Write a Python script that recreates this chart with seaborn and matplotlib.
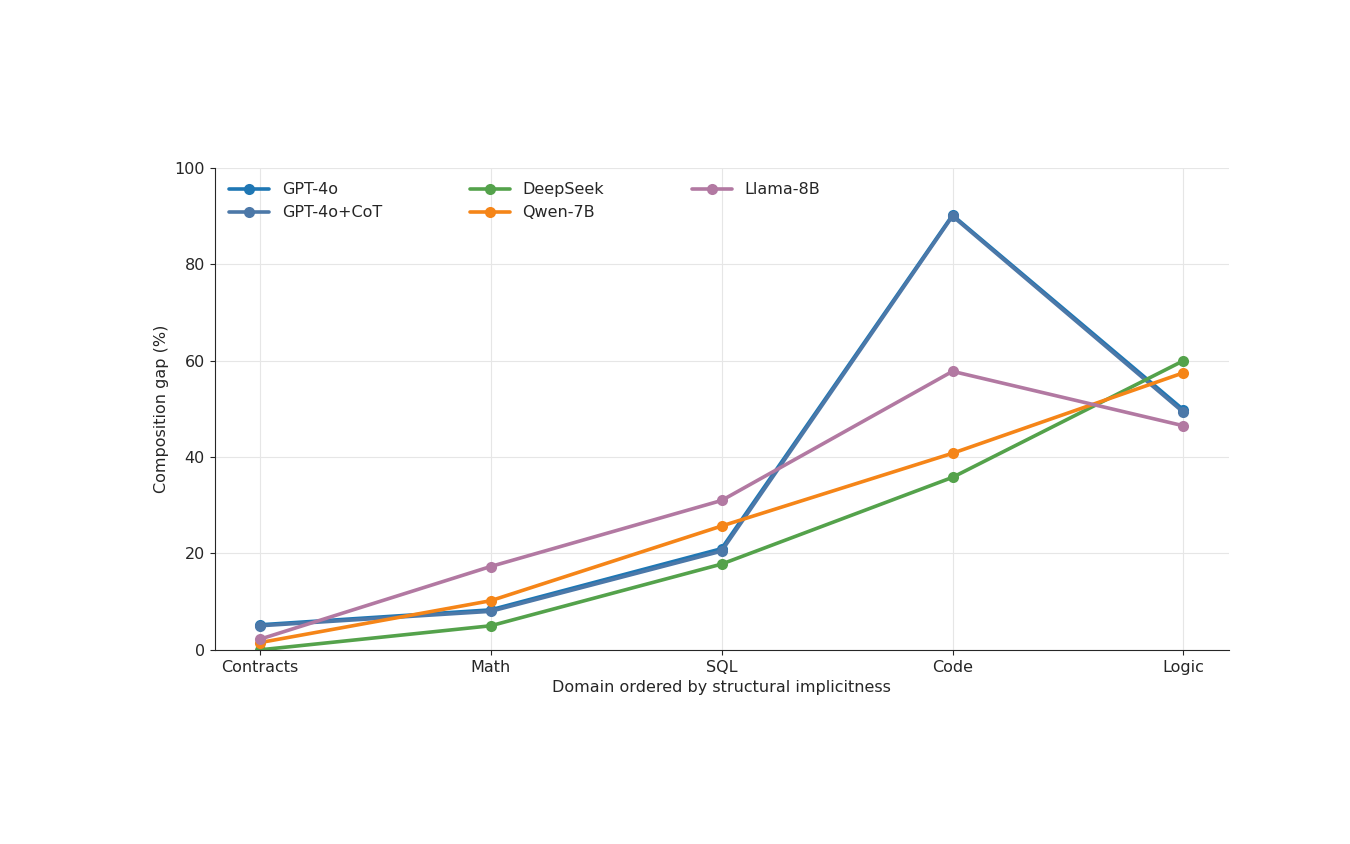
import matplotlib
matplotlib.use("Agg")
import matplotlib.pyplot as plt
import seaborn as sns
import pandas as pd
from matplotlib.transforms import Bbox, TransformedBbox

domains = ["Contracts", "Math", "SQL", "Code", "Logic"]
gpt4o = [5.2, 8.3, 21.0, 90.2, 49.8]
gpt4o_cot = [5.0, 8.0, 20.5, 90.0, 49.3]
deepseek = [0.0, 5.0, 17.8, 35.8, 60.0]
qwen = [1.5, 10.2, 25.7, 40.8, 57.5]
llama = [2.2, 17.3, 31.0, 57.8, 46.5]

series = {"GPT-4o": gpt4o, "GPT-4o+CoT": gpt4o_cot, "DeepSeek": deepseek,
          "Qwen-7B": qwen, "Llama-8B": llama}
colors = {"GPT-4o": "#1f77b4", "GPT-4o+CoT": "#4c78a8", "DeepSeek": "#54a24b",
          "Qwen-7B": "#f58518", "Llama-8B": "#b279a2"}

rows = []
for name, vals in series.items():
    for i, (d, v) in enumerate(zip(domains, vals)):
        rows.append({"model": name, "x": i, "gap": v})
df = pd.DataFrame(rows)

sns.set_style("ticks")
plt.rcParams["font.family"] = ["DejaVu Sans"]
plt.rcParams["font.size"] = 11.5

fig = plt.figure(figsize=(13.5, 8.44), dpi=100)
ax = fig.add_axes([0.159, 0.230, 0.751, 0.571])
sns.lineplot(data=df, x="x", y="gap", hue="model", palette=colors, marker="o",
             markersize=8, linewidth=2.6, markeredgewidth=0, ax=ax)
ax.set_xlim(-0.195, 4.195)
ax.set_ylim(0, 100)
ax.set_xticks(range(len(domains)))
ax.set_xticklabels(domains, fontsize=11.5)
ax.tick_params(labelsize=11.5)
ax.set_yticks([0, 20, 40, 60, 80, 100])
ax.grid(True, color="#e6e6e6", linewidth=0.8)
ax.set_axisbelow(True)
sns.despine(ax=ax)
ax.set_ylabel("Composition gap (%)", fontsize=11.5)
xl = ax.set_xlabel("Domain ordered by structural implicitness", fontsize=11.5)
xl.set_clip_on(True)
xl.set_clip_box(TransformedBbox(Bbox([[0, 0.165], [1, 1]]), fig.transFigure))
ax.legend(ncol=3, frameon=False, loc="upper left", fontsize=11.5,
          handlelength=2.5, columnspacing=5.5, title=None)
fig.savefig("out.png", dpi=100)
